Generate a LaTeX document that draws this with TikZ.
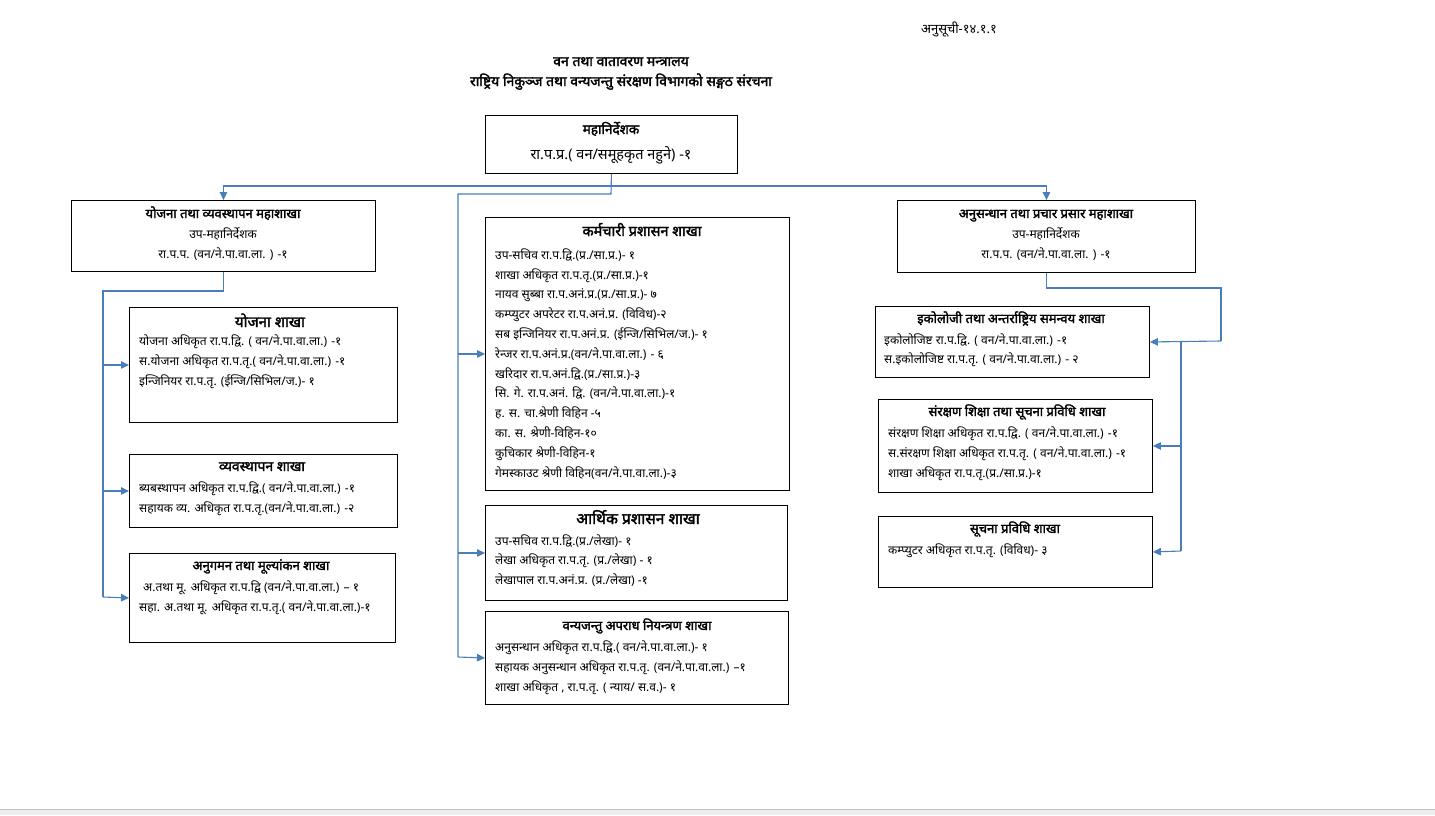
\documentclass[tikz,border=0pt]{standalone}
\usepackage{fontspec}
\setmainfont{Noto Sans}[Script=Devanagari, BoldFont={Noto Sans}, BoldFeatures={FakeBold=2.2}]
\usetikzlibrary{arrows.meta}
\definecolor{conncol}{RGB}{74,126,187}
\begin{document}
\begin{tikzpicture}[x=1pt,y=-1pt,
 box/.style={draw=black, line width=0.9pt, anchor=north west, inner sep=0pt},
 ttl/.style={font=\bfseries\fontsize{13}{15}\selectfont, inner sep=0pt, text height=8pt, text depth=0pt},
 bigttl/.style={font=\bfseries\fontsize{14.5}{16}\selectfont, inner sep=0pt, text height=8pt, text depth=0pt},
 ln/.style={font=\fontsize{12}{14}\selectfont, anchor=west, inner sep=0pt, text height=8pt, text depth=0pt},
 cln/.style={ln, anchor=center},
 conn/.style={draw=conncol, line width=1.1pt},
 arr/.style={conn, -{Triangle[length=8pt,width=7.5pt]}},
]
\useasboundingbox (0,0) rectangle (1435,815);
\fill[black!7] (0,809) rectangle (1435,815);
\draw[black!25, line width=0.8pt] (0,809) -- (1435,809);

% headings
\node[cln, font=\fontsize{13}{15}\selectfont] (anu) at (959,29) {अनुसूची-१४.१.१};
\node[ttl, font=\bfseries\fontsize{14}{16}\selectfont] (h1) at (621,62) {वन तथा वातावरण मन्त्रालय};
\node[ttl, font=\bfseries\fontsize{14}{16}\selectfont] (h2) at (621,82) {राष्ट्रिय निकुञ्ज तथा वन्यजन्तु संरक्षण विभागको सङ्गठ संरचना};

% director general
\node[box, minimum width=252pt, minimum height=58pt] (dg) at (485,115) {};
\node[ttl, font=\bfseries\fontsize{13.5}{15}\selectfont] (dgt) at (611,130) {महानिर्देशक};
\node[cln, font=\fontsize{14.5}{16}\selectfont] (dgl) at (611,155) {रा.प.प्र.( वन/समूहकृत नहुने) -१};

% left division
\node[box, minimum width=304pt, minimum height=71pt] (ym) at (71,200) {};
\node[ttl] (ymt) at (223,214) {योजना तथा व्यवस्थापन महाशाखा};
\node[cln] (yml1) at (223,234) {उप-महानिर्देशक};
\node[cln] (yml2) at (223,254) {रा.प.प. (वन/ने.पा.वा.ला. ) -१};

\node[box, minimum width=268pt, minimum height=115pt] (yb) at (129,307) {};
\node[ttl, font=\bfseries\fontsize{15}{17}\selectfont] (ybt) at (270,323) {योजना शाखा};
\foreach [count=\i] \t in {{योजना अधिकृत रा.प.द्वि. ( वन/ने.पा.वा.ला.) -१},{स.योजना अधिकृत रा.प.तृ.( वन/ने.पा.वा.ला.) -१},{इन्जिनियर रा.प.तृ. (ईन्जि/सिभिल/ज.)- १}}
  \node[ln] (ybl\i) at (139,{321+20*\i}) {\t};

\node[box, minimum width=268pt, minimum height=73pt] (vb) at (129,454) {};
\node[ttl, font=\bfseries\fontsize{14}{16}\selectfont] (vbt) at (262,467) {व्यवस्थापन शाखा};
\foreach [count=\i] \t in {{ब्यबस्थापन अधिकृत रा.प.द्वि.( वन/ने.पा.वा.ला.) -१},{सहायक व्य. अधिकृत रा.प.तृ.(वन/ने.पा.वा.ला.) -२}}
  \node[ln] (vbl\i) at (139,{469+19.5*\i}) {\t};

\node[box, minimum width=266pt, minimum height=89pt] (ab) at (129,553) {};
\node[ttl] (abt) at (261,566) {अनुगमन तथा मूल्यांकन शाखा};
\node[ln] (abl1) at (143,587) {अ.तथा मू. अधिकृत रा.प.द्वि (वन/ने.पा.वा.ला.) – १};
\node[ln] (abl2) at (139,607) {सहा. अ.तथा मू. अधिकृत रा.प.तृ.( वन/ने.पा.वा.ला.)-१};

% middle column
\node[box, minimum width=304pt, minimum height=273pt] (kp) at (485,217) {};
\node[bigttl] (kpt) at (642,232) {कर्मचारी प्रशासन शाखा};
\foreach [count=\i] \t in {{उप-सचिव रा.प.द्वि.(प्र./सा.प्र.)- १},{शाखा अधिकृत रा.प.तृ.(प्र./सा.प्र.)-१},{नायव  सुब्बा रा.प.अनं.प्र.(प्र./सा.प्र.)- ७},{कम्प्युटर अपरेटर रा.प.अनं.प्र. (विविध)-२},{सब इन्जिनियर रा.प.अनं.प्र. (ईन्जि/सिभिल/ज.)- १},{रेन्जर रा.प.अनं.प्र.(वन/ने.पा.वा.ला.) - ६},{खरिदार रा.प.अनं.द्वि.(प्र./सा.प्र.)-३},{सि. गे.  रा.प.अनं. द्वि. (वन/ने.पा.वा.ला.)-१},{ह. स. चा.श्रेणी विहिन -५},{का. स. श्रेणी-विहिन-१०},{कुचिकार श्रेणी-विहिन-१},{गेमस्काउट  श्रेणी विहिन(वन/ने.पा.वा.ला.)-३}}
  \node[ln] (kpl\i) at (495,{235.5+19.8*\i}) {\t};

\node[box, minimum width=302pt, minimum height=95pt] (ap) at (485,505) {};
\node[bigttl, font=\bfseries\fontsize{15.5}{17}\selectfont] (apt) at (638,520) {आर्थिक प्रशासन शाखा};
\foreach [count=\i] \t in {{उप-सचिव रा.प.द्वि.(प्र./लेखा)- १},{लेखा अधिकृत रा.प.तृ. (प्र./लेखा) - १},{लेखापाल रा.प.अनं.प्र. (प्र./लेखा) -१}}
  \node[ln] (apl\i) at (495,{521.5+19.7*\i}) {\t};

\node[box, minimum width=303pt, minimum height=93pt] (wj) at (485,611) {};
\node[bigttl, font=\bfseries\fontsize{13}{15}\selectfont] (wjt) at (637,626) {वन्यजन्तु अपराध नियन्त्रण शाखा};
\foreach [count=\i] \t in {{अनुसन्धान अधिकृत रा.प.द्वि.( वन/ने.पा.वा.ला.)- १},{सहायक अनुसन्धान अधिकृत रा.प.तृ. (वन/ने.पा.वा.ला.) –१},{शाखा अधिकृत , रा.प.तृ. ( न्याय/ स.व.)- १}}
  \node[ln] (wjl\i) at (495,{627+20*\i}) {\t};

% right division
\node[box, minimum width=298pt, minimum height=72pt] (am) at (897,200) {};
\node[ttl] (amt) at (1046,214) {अनुसन्धान तथा प्रचार प्रसार महाशाखा};
\node[cln] (aml1) at (1046,234) {उप-महानिर्देशक};
\node[cln] (aml2) at (1046,254) {रा.प.प. (वन/ने.पा.वा.ला. ) -१};

\node[box, minimum width=274pt, minimum height=71pt] (eco) at (875,306) {};
\node[ttl] (ecot) at (1011,319) {इकोलोजी तथा अन्तर्राष्ट्रिय समन्वय शाखा};
\foreach [count=\i] \t in {{इकोलोजिष्ट रा.प.द्वि. ( वन/ने.पा.वा.ला.) -१},{स.इकोलोजिष्ट रा.प.तृ. ( वन/ने.पा.वा.ला.) - २}}
  \node[ln] (ecol\i) at (884,{320.5+19.5*\i}) {\t};

\node[box, minimum width=274pt, minimum height=93pt] (sk) at (878,399) {};
\node[ttl] (skt) at (1017,412) {संरक्षण शिक्षा तथा सूचना प्रविधि शाखा};
\foreach [count=\i] \t in {{संरक्षण शिक्षा अधिकृत रा.प.द्वि. ( वन/ने.पा.वा.ला.) -१},{स.संरक्षण शिक्षा अधिकृत रा.प.तृ. ( वन/ने.पा.वा.ला.) -१},{शाखा अधिकृत रा.प.तृ.(प्र./सा.प्र.)-१}}
  \node[ln] (skl\i) at (888,{413+20*\i}) {\t};

\node[box, minimum width=274pt, minimum height=71pt] (su) at (878,516) {};
\node[ttl] (sut) at (1015,529) {सूचना प्रविधि शाखा};
\node[ln] (sul1) at (888,550) {कम्प्युटर अधिकृत रा.प.तृ. (विविध)- ३};

% connectors
\coordinate (j1) at (611,186);
\coordinate (j2) at (611,194);
\coordinate (mtop) at (458,194);
\coordinate (mbot) at (458,657);
\draw[conn] (dg.south) -- (j2) -- (mtop) -- (mbot);
\draw[arr] (j1) -| (ym.north);
\draw[arr] (j1) -| (am.north);
\draw[arr] (mtop |- kp.west) -- (kp.west);
\draw[arr] (mtop |- ap.west) -- (ap.west);
\draw[arr] (mbot) -- (wj.west);

\coordinate (l1) at (103,291);
\coordinate (l2) at (103,597);
\draw[conn] (ym.south) |- (l1) -- (l2);
\draw[arr] (l1 |- yb.west) -- (yb.west);
\draw[arr] (l1 |- vb.west) -- (vb.west);
\draw[arr] (l2) -- (ab.west);

\coordinate (r1) at (1221,288);
\coordinate (r2) at (1221,341);
\coordinate (r3) at (1181,341);
\coordinate (r4) at (1181,551);
\draw[conn] (am.south) |- (r1) -- (r2);
\draw[arr] (r2) -- (eco.east);
\draw[conn] (r3) -- (r4);
\draw[arr] (r3 |- sk.east) -- (sk.east);
\draw[arr] (r4) -- (su.east);
\end{tikzpicture}
\end{document}
